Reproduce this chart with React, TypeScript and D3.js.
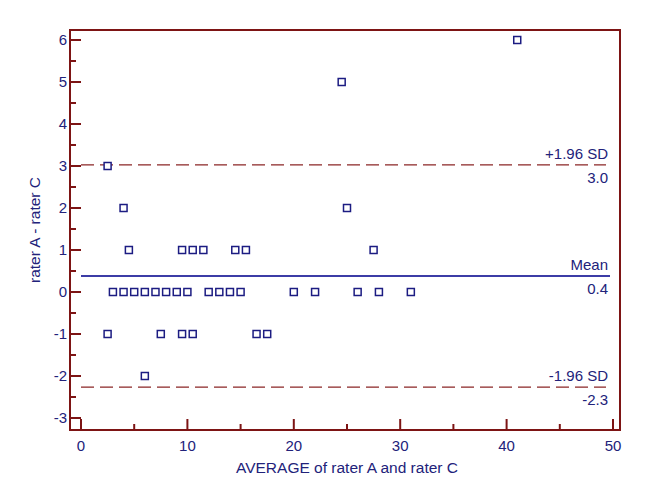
import React, { useEffect, useRef } from 'react';
import * as d3 from 'd3';

// average of the two raters (x) and their difference (y)
const averages = [
  2.5, 4, 25, 4.5, 9.5, 10.5, 11.5, 14.5, 15.5, 27.5, 24.5, 41,
  3, 4, 5, 6, 7, 8, 9, 10, 12, 13, 14, 15, 20, 22, 26, 28, 31,
  2.5, 7.5, 9.5, 10.5, 16.5, 17.5, 6,
];
const differences = [
  3, 2, 2, 1, 1, 1, 1, 1, 1, 1, 5, 6,
  0, 0, 0, 0, 0, 0, 0, 0, 0, 0, 0, 0, 0, 0, 0, 0, 0,
  -1, -1, -1, -1, -1, -1, -2,
];
const meanDiff = 0.38;
const sdDiff = 1.35;
const xTicks = [0, 10, 20, 30, 40, 50];
const yTicks = [-3, -2, -1, 0, 1, 2, 3, 4, 5, 6];

const width = 657;
const height = 500;
const frame = { left: 70, top: 30, right: 620, bottom: 430 };
const maroon = '#7d1414';
const navy = '#22227a';
const font = '"Liberation Sans", Arial, sans-serif';

export default function App() {
  const ref = useRef<SVGSVGElement>(null);

  useEffect(() => {
    const svg = d3.select(ref.current);
    svg.selectAll('*').remove();

    const x = d3.scaleLinear().domain([0, 50]).range([81, 613]);
    const y = d3.scaleLinear().domain([-3, 6]).range([418, 40]);

    const data = averages.map((a, i) => ({ avg: a, diff: differences[i] }));

    // tick marks inside the frame
    const yMinor = d3.range(-3, 6.01, 0.5);
    svg.append('g')
      .selectAll('line')
      .data(yMinor)
      .join('line')
        .attr('x1', frame.left)
        .attr('x2', d => frame.left + (Number.isInteger(d) ? 11 : 6))
        .attr('y1', d => y(d))
        .attr('y2', d => y(d))
        .attr('stroke', maroon)
        .attr('stroke-width', 2);

    const xMinor = d3.range(0, 50.01, 5);
    svg.append('g')
      .selectAll('line')
      .data(xMinor)
      .join('line')
        .attr('x1', d => x(d))
        .attr('x2', d => x(d))
        .attr('y1', frame.bottom)
        .attr('y2', d => frame.bottom - (d % 10 === 0 ? 11 : 6))
        .attr('stroke', maroon)
        .attr('stroke-width', 2);

    svg.append('rect')
      .attr('x', frame.left)
      .attr('y', frame.top)
      .attr('width', frame.right - frame.left)
      .attr('height', frame.bottom - frame.top)
      .attr('fill', 'none')
      .attr('stroke', maroon)
      .attr('stroke-width', 2);

    // tick labels
    svg.append('g')
      .selectAll('text')
      .data(yTicks)
      .join('text')
        .attr('x', 67)
        .attr('y', d => y(d))
        .attr('dy', '0.35em')
        .attr('text-anchor', 'end')
        .attr('font-family', font)
        .attr('font-size', 15)
        .attr('fill', navy)
        .text(d => d);

    svg.append('g')
      .selectAll('text')
      .data(xTicks)
      .join('text')
        .attr('x', d => x(d))
        .attr('y', 451)
        .attr('text-anchor', 'middle')
        .attr('font-family', font)
        .attr('font-size', 15)
        .attr('fill', navy)
        .text(d => d);

    svg.append('text')
      .attr('x', 347)
      .attr('y', 473)
      .attr('text-anchor', 'middle')
      .attr('font-family', font)
      .attr('font-size', 15.5)
      .attr('fill', navy)
      .text('AVERAGE of rater A and rater C');

    svg.append('text')
      .attr('transform', 'translate(40,230) rotate(-90)')
      .attr('text-anchor', 'middle')
      .attr('font-family', font)
      .attr('font-size', 15.5)
      .attr('fill', navy)
      .text('rater A - rater C');

    // mean and limits of agreement
    const upper = meanDiff + 1.96 * sdDiff;
    const lower = meanDiff - 1.96 * sdDiff;
    const refLines = [
      { value: upper, name: '+1.96 SD', dashed: true },
      { value: meanDiff, name: 'Mean', dashed: false },
      { value: lower, name: '-1.96 SD', dashed: true },
    ];

    const lines = svg.append('g');
    lines.selectAll('line')
      .data(refLines)
      .join('line')
        .attr('x1', x(0))
        .attr('x2', d => d.dashed ? 606 : 610)
        .attr('y1', d => y(d.value))
        .attr('y2', d => y(d.value))
        .attr('stroke', d => d.dashed ? '#8b2626' : '#3c3ca6')
        .attr('stroke-width', d => d.dashed ? 1.3 : 2)
        .attr('stroke-dasharray', d => d.dashed ? '13,6' : null);

    lines.selectAll('text.name')
      .data(refLines)
      .join('text')
        .attr('class', 'name')
        .attr('x', 608)
        .attr('y', d => y(d.value) - 6)
        .attr('text-anchor', 'end')
        .attr('font-family', font)
        .attr('font-size', 15)
        .attr('fill', navy)
        .text(d => d.name);

    lines.selectAll('text.val')
      .data(refLines)
      .join('text')
        .attr('class', 'val')
        .attr('x', 608)
        .attr('y', d => y(d.value) + 18)
        .attr('text-anchor', 'end')
        .attr('font-family', font)
        .attr('font-size', 15)
        .attr('fill', navy)
        .text(d => d.value.toFixed(1));

    // points
    svg.append('g')
      .selectAll('rect')
      .data(data)
      .join('rect')
        .attr('x', d => x(d.avg) - 3.5)
        .attr('y', d => y(d.diff) - 3.5)
        .attr('width', 7)
        .attr('height', 7)
        .attr('fill', 'white')
        .attr('stroke', '#1c1c82')
        .attr('stroke-width', 1.5);
  }, []);

  return (
    <svg
      ref={ref}
      width={width}
      height={height}
      style={{ position: 'absolute', left: 0, top: 0, background: 'white' }}
    />
  );
}
